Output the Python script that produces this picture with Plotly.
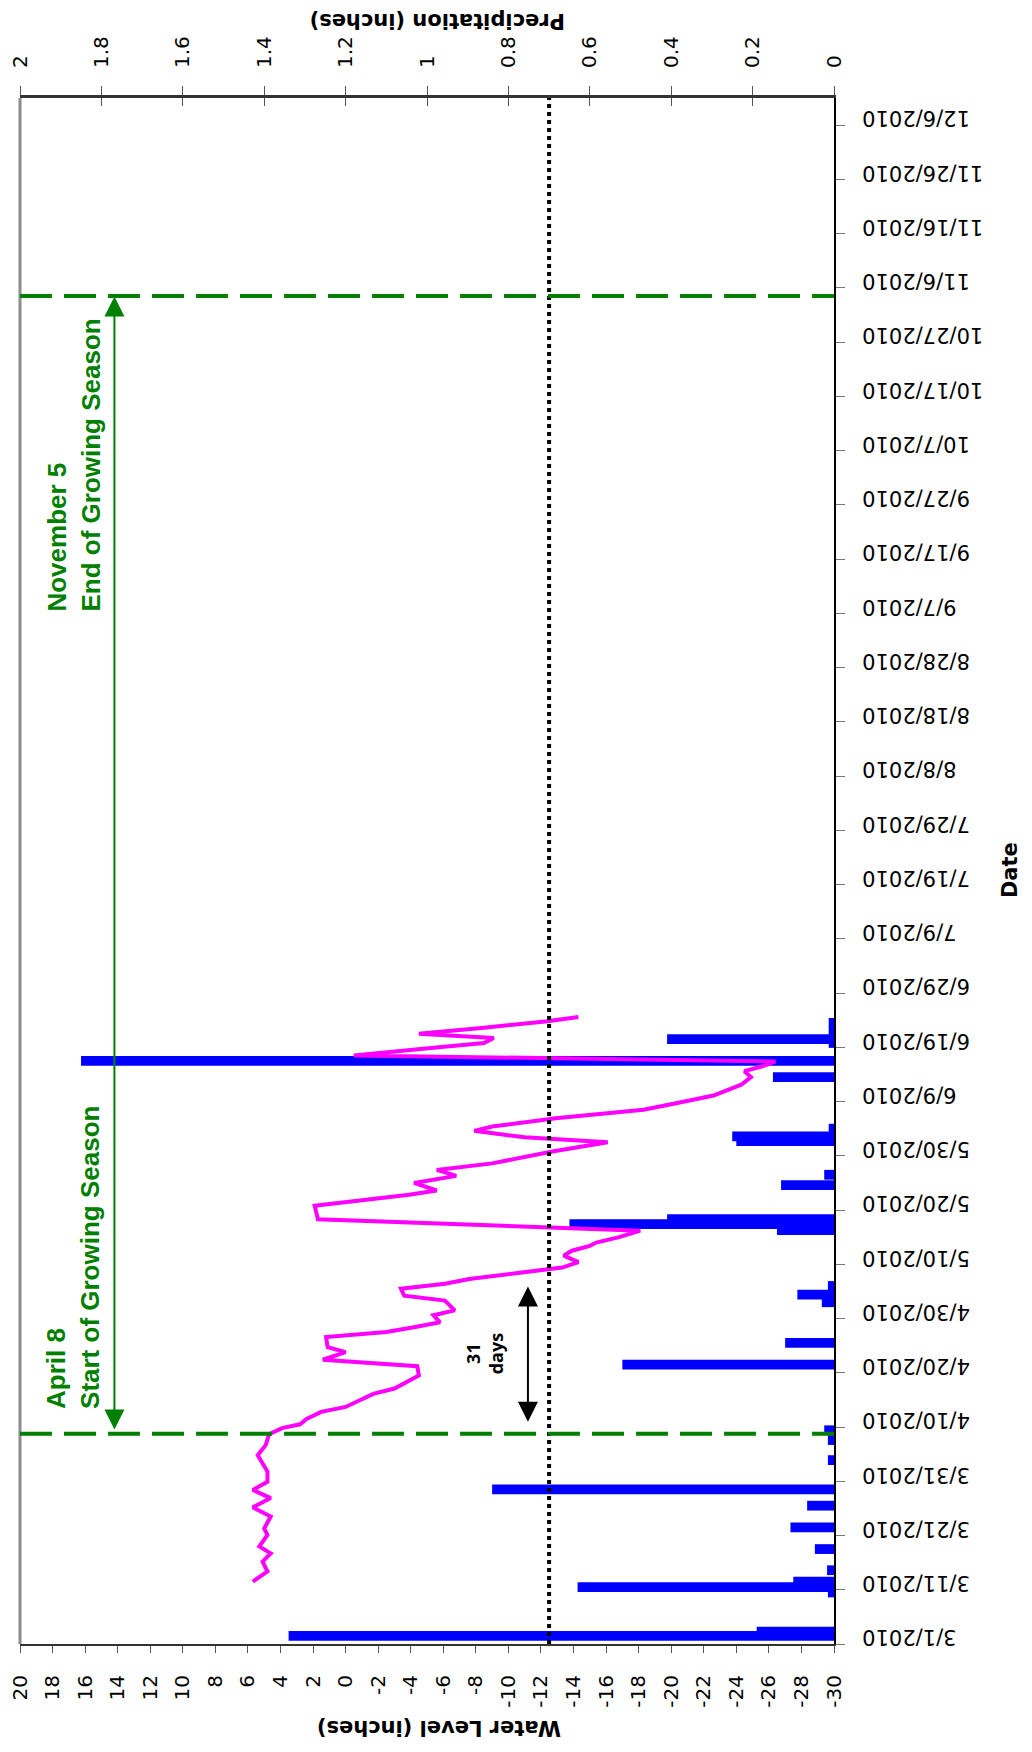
import pandas as pd
import plotly.graph_objects as go

# readings taken off the chart (days after 3/1/2010)
start = pd.Timestamp('2010-03-01')

wl_days = [11.5, 13.4, 15.2, 16.7, 18.0, 20.1, 21.3, 23.5, 25.2, 26.9, 28.4, 29.9, 31.8, 34.8,
           36.7, 38.7, 39.8, 40.5, 41.5, 42.8, 43.7, 46.1, 47.1, 48.6, 49.5, 51.2, 52.4, 53.8,
           54.7, 56.6, 57.5, 58.4, 59.3, 60.6, 61.5, 63.3, 64.2, 65.5, 66.4, 67.3, 68.2, 68.8,
           69.4, 70.4, 71.6, 72.5, 73.4, 74.0, 75.0, 76.2, 78.3, 80.8, 82.8, 83.6, 85.0, 86.3,
           87.4, 88.6, 90.8, 92.5, 93.4, 94.6, 95.4, 96.9, 98.5, 99.7, 101.1, 103.1, 104.5,
           105.6, 106.5, 107.4, 108.5, 109.9, 110.8, 111.7, 112.5, 113.6, 114.8, 115.6]
wl_inches = [5.7, 4.8, 5.1, 4.6, 5.3, 4.8, 5.0, 4.6, 5.7, 4.6, 5.7, 4.8, 4.8, 5.4,
             4.9, 4.7, 3.9, 2.8, 2.4, 1.5, 0.0, -1.7, -3.0, -3.9, -4.5, -4.4, 1.4, 0.0,
             1.1, 1.2, -2.5, -4.2, -5.8, -5.4, -6.7, -6.1, -3.6, -3.4, -6.1, -7.6, -10.0, -11.9,
             -13.3, -14.3, -13.4, -13.9, -15.0, -15.4, -16.8, -18.1, 1.7, 1.9, -3.9, -5.6, -4.2, -6.8,
             -5.6, -9.0, -12.7, -16.1, -11.0, -7.9, -9.0, -12.9, -18.3, -20.3, -22.6, -24.3, -24.9,
             -24.5, -25.6, -26.4, -0.5, -5.4, -8.5, -9.1, -4.5, -8.5, -12.4, -14.3]

precip_days = [1.5, 2.3, 9.5, 10.5, 11.5, 13.6, 17.5, 21.5, 25.5, 28.5, 33.9, 37.6, 39.4,
               51.5, 55.5, 63.0, 64.4, 66.0, 76.3, 77.4, 78.3, 84.6, 86.5, 92.7, 93.6, 95.0,
               104.5, 107.5, 110.8, 111.5, 113.0, 114.5]
precip_inches = [1.34, 0.19, 0.015, 0.63, 0.10, 0.017, 0.047, 0.107, 0.066, 0.84, 0.015, 0.015, 0.024,
                 0.52, 0.12, 0.03, 0.09, 0.015, 0.14, 0.65, 0.41, 0.13, 0.024, 0.24, 0.25, 0.013,
                 0.15, 1.85, 0.013, 0.41, 0.013, 0.013]

threshold = -12.5
season_start = '2010-04-08 18:00'
season_end = '2010-11-04 12:00'
wl_ticks = list(range(-30, 21, 2))
wl_ticktext = [str(v) for v in wl_ticks]

wl_dates = start + pd.to_timedelta(wl_days, unit='D')
precip_dates = start + pd.to_timedelta(precip_days, unit='D')

green = '#008000'
font_ax = 'DejaVu Sans'

fig = go.Figure()
fig.add_trace(go.Bar(x=precip_inches, y=precip_dates, orientation='h', xaxis='x', yaxis='y',
                     width=1.8 * 86400000, marker=dict(color='#0000FF', line=dict(width=0))))
fig.add_trace(go.Scatter(x=wl_inches, y=wl_dates, mode='lines', xaxis='x2', yaxis='y',
                         line=dict(color='#FF00FF', width=4)))
# empty trace so the inner tick marks of the top axis get drawn
fig.add_trace(go.Scatter(x=[], y=[], xaxis='x3', yaxis='y', hoverinfo='skip'))

# page body has an 8px margin, so the figure is 16px smaller than the window
fig.update_layout(
    width=1016, height=1736,
    margin=dict(l=12, r=190, t=90, b=100),
    paper_bgcolor='white', plot_bgcolor='white',
    showlegend=False,
    xaxis=dict(side='top', range=[2, 0], dtick=0.2, tick0=0, tickangle=-90,
               showline=True, linecolor='#333333', linewidth=3,
               ticks='outside', ticklen=9, tickcolor='#555555', ticklabelstandoff=14,
               ticklabeloverflow='allow', automargin=False, showgrid=False, zeroline=False,
               tickfont=dict(family=font_ax, size=20, color='black')),
    xaxis3=dict(overlaying='x', side='top', range=[2, 0], dtick=0.2, tick0=0,
                showticklabels=False, ticks='inside', ticklen=8, tickcolor='#555555',
                automargin=False, showgrid=False, zeroline=False, showline=False),
    xaxis2=dict(overlaying='x', side='bottom', range=[20, -30],
                tickvals=wl_ticks, ticktext=wl_ticktext, tickangle=-90,
                showline=True, linecolor='#333333', linewidth=2,
                ticks='outside', ticklen=7, tickcolor='#555555', ticklabelstandoff=14,
                ticklabeloverflow='allow', automargin=False, showgrid=False, zeroline=False,
                tickfont=dict(family=font_ax, size=20, color='black')),
    yaxis=dict(type='date', side='right', range=['2010-03-01', '2010-12-11'],
               tick0='2010-03-01', dtick=10 * 86400000, tickformat='%-m/%-d/%Y',
               tickangle=180, ticklabelposition='inside', ticklabelstandoff=-27,
               ticklabeloverflow='allow', automargin=False,
               showline=True, linecolor='black', linewidth=2,
               ticks='outside', ticklen=9, tickcolor='#777777',
               showgrid=False, zeroline=False,
               tickfont=dict(family=font_ax, size=21, color='black')),
)

# plot area left border
fig.add_shape(type='line', xref='paper', yref='paper', x0=0, x1=0, y0=0, y1=1,
              line=dict(color='#8c8c8c', width=3))
# -12.5 inch line
fig.add_shape(type='line', xref='x2', yref='paper', x0=threshold, x1=threshold, y0=0, y1=1,
              line=dict(color='black', width=4, dash='4px,4px'))
# growing season lines
for d in [season_start, season_end]:
    fig.add_shape(type='line', xref='paper', yref='y', x0=0, x1=1, y0=d, y1=d,
                  line=dict(color=green, width=4, dash='32px,12px'))

# arrows
fig.add_annotation(xref='x2', yref='y', axref='x2', ayref='y', x=14.2, y='2010-11-04 10:00',
                   ax=14.2, ay='2010-04-09 06:00', text='', showarrow=True, arrowside='end+start',
                   arrowhead=2, arrowsize=2, arrowwidth=2, arrowcolor=green, standoff=0, startstandoff=0)
fig.add_annotation(xref='x2', yref='y', axref='x2', ayref='y', x=-11.2, y='2010-05-05 22:00',
                   ax=-11.2, ay='2010-04-10 17:00', text='', showarrow=True, arrowside='end+start',
                   arrowhead=2, arrowsize=2, arrowwidth=2, arrowcolor='black', standoff=0, startstandoff=0)

fig.add_annotation(xref='x2', yref='y', x=-8.5, y='2010-04-23 14:00', text='<b>31<br>days</b>',
                   showarrow=False, textangle=-90, xanchor='center', yanchor='middle',
                   font=dict(family='Open Sans', size=18, color='black'))
fig.add_annotation(xref='x2', yref='y', x=16.7, y='2010-09-07', align='left',
                   text='<b>November 5<br>End of Growing Season</b>', showarrow=False, textangle=-90,
                   xanchor='center', yanchor='bottom', font=dict(family='Arial', size=26, color=green))
fig.add_annotation(xref='x2', yref='y', x=16.7, y='2010-04-13', align='left',
                   text='<b>April 8<br>Start of Growing Season</b>', showarrow=False, textangle=-90,
                   xanchor='center', yanchor='bottom', font=dict(family='Arial', size=26, color=green))

# axis titles
fig.add_annotation(xref='paper', yref='paper', x=0.5123, y=1.0498, text='<b>Precipitation (inches)</b>',
                   showarrow=False, textangle=180, xanchor='center', yanchor='middle',
                   font=dict(family=font_ax, size=21, color='black'))
fig.add_annotation(xref='paper', yref='paper', x=0.5147, y=-0.0543, text='<b>Water Level (inches)</b>',
                   showarrow=False, textangle=180, xanchor='center', yanchor='middle',
                   font=dict(family=font_ax, size=21, color='black'))
fig.add_annotation(xref='paper', yref='paper', x=1.2162, y=0.5006, text='<b>Date</b>',
                   showarrow=False, textangle=-90, xanchor='center', yanchor='middle',
                   font=dict(family=font_ax, size=21, color='black'))

fig.write_html("out.html")
